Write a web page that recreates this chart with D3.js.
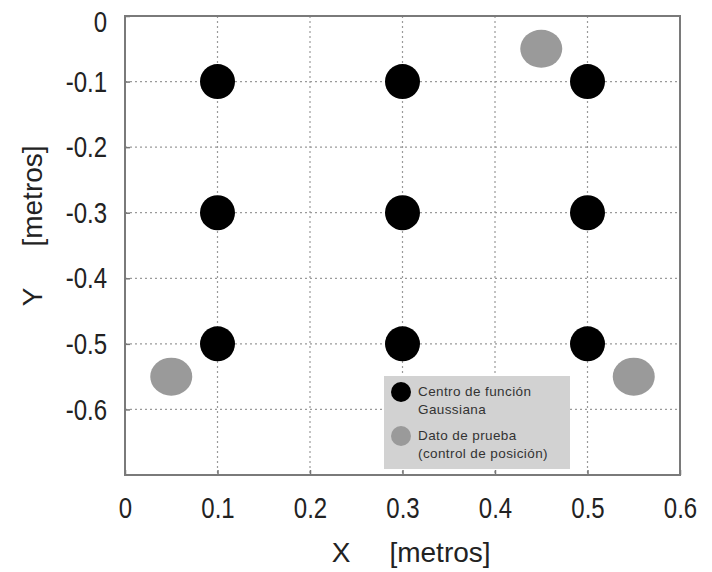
<!DOCTYPE html>
<html>
<head>
<meta charset="utf-8">
<script src="https://cdn.jsdelivr.net/npm/d3@7"></script>
<style>
  body { margin: 0; background: #fff; }
  svg { display: block; }
  .tick-lbl { font-family: "Liberation Sans", Arial, sans-serif; fill: #222; }
</style>
</head>
<body>
<div id="chart"></div>
<script>
// Gaussian centres (black) and test points (gray)
const gaussX = [0.1, 0.3, 0.5, 0.1, 0.3, 0.5, 0.1, 0.3, 0.5];
const gaussY = [-0.1, -0.1, -0.1, -0.3, -0.3, -0.3, -0.5, -0.5, -0.5];
const testX = [0.45, 0.05, 0.55];
const testY = [-0.05, -0.55, -0.55];
const xTicks = [0, 0.1, 0.2, 0.3, 0.4, 0.5, 0.6];
const yTicks = [0, -0.1, -0.2, -0.3, -0.4, -0.5, -0.6];
const legendLabels = [["Centro de función", "Gaussiana"], ["Dato de prueba", "(control de posición)"]];

const svgWidth = 712, svgHeight = 572;
const margin = { top: 16, right: 32, bottom: 97, left: 125 };
const width = svgWidth - margin.left - margin.right;
const height = svgHeight - margin.top - margin.bottom;
const squeeze = 0.8; // narrow look of the tick labels

const svg = d3.select("#chart").append("svg")
    .attr("width", svgWidth)
    .attr("height", svgHeight);

const g = svg.append("g")
    .attr("transform", `translate(${margin.left}, ${margin.top})`);

const xScale = d3.scaleLinear().domain([0, 0.6]).range([0, width]);
const yScale = d3.scaleLinear().domain([-0.7, 0]).range([height, 0]);

// hyphen minus like the original, not the unicode one
const fmt = d => d === 0 ? "0" : d3.format(".1f")(d).replace("\u2212", "-");

// dotted grid
g.append("g")
    .selectAll("line")
    .data(xTicks.slice(1, -1))
    .join("line")
    .attr("x1", d => xScale(d)).attr("x2", d => xScale(d))
    .attr("y1", 0).attr("y2", height)
    .attr("stroke", "#9a9a9a")
    .attr("stroke-width", 1.2)
    .attr("stroke-dasharray", "2,3");

g.append("g")
    .selectAll("line")
    .data(yTicks.slice(1))
    .join("line")
    .attr("x1", 0).attr("x2", width)
    .attr("y1", d => yScale(d)).attr("y2", d => yScale(d))
    .attr("stroke", "#9a9a9a")
    .attr("stroke-width", 1.2)
    .attr("stroke-dasharray", "2,3");

// axes (labels only, ticks inside)
const xg = g.append("g")
    .attr("transform", `translate(0, ${height})`)
    .call(d3.axisBottom(xScale)
        .tickValues(xTicks)
        .tickSizeInner(-5).tickSizeOuter(0)
        .tickPadding(22)
        .tickFormat(fmt));
xg.select(".domain").remove();
xg.selectAll("line").attr("stroke", "#777").attr("stroke-width", 1.5);
xg.selectAll("text")
    .attr("class", "tick-lbl")
    .attr("transform", `scale(${squeeze},1)`)
    .style("font-size", "30px");

const yg = g.append("g")
    .call(d3.axisLeft(yScale)
        .tickValues(yTicks)
        .tickSizeInner(-5).tickSizeOuter(0)
        .tickPadding(18)
        .tickFormat(fmt));
yg.select(".domain").remove();
yg.selectAll("line").attr("stroke", "#777").attr("stroke-width", 1.5);
yg.selectAll("text")
    .attr("class", "tick-lbl")
    .attr("x", -18 / squeeze)
    .attr("transform", `scale(${squeeze},1)`)
    .style("font-size", "30px");
// top "0" sits a little lower in the original
yg.selectAll(".tick").filter(d => d === 0).select("text")
    .attr("dy", "0.52em");

// frame
g.append("rect")
    .attr("x", 0).attr("y", 0)
    .attr("width", width).attr("height", height)
    .attr("fill", "none")
    .attr("stroke", "#7a7a7a")
    .attr("stroke-width", 2);

// points
g.selectAll(".gauss")
    .data(gaussX.map((x, i) => ({ x, y: gaussY[i] })))
    .join("circle")
    .attr("class", "gauss")
    .attr("cx", d => xScale(d.x))
    .attr("cy", d => yScale(d.y))
    .attr("r", 17.5)
    .attr("fill", "#000");

g.selectAll(".test")
    .data(testX.map((x, i) => ({ x, y: testY[i] })))
    .join("ellipse")
    .attr("class", "test")
    .attr("cx", d => xScale(d.x))
    .attr("cy", d => yScale(d.y))
    .attr("rx", 21)
    .attr("ry", 19)
    .attr("fill", "#9a9a9a");

// legend
const legend = svg.append("g").attr("transform", "translate(384, 376)");
legend.append("rect")
    .attr("width", 186).attr("height", 93)
    .attr("fill", "#d2d2d2");

const legendColors = ["#000", "#9a9a9a"];
legendLabels.forEach((lines, i) => {
    const yOff = 16 + i * 44;
    legend.append("circle")
        .attr("cx", 17).attr("cy", yOff)
        .attr("r", 10)
        .attr("fill", legendColors[i]);
    lines.forEach((t, j) => {
        legend.append("text")
            .attr("x", 34)
            .attr("y", yOff + 4 + j * 18)
            .style("font-family", "'Liberation Sans', Arial, sans-serif")
            .style("font-size", "13.5px")
            .style("letter-spacing", "0.4px")
            .style("fill", "#333")
            .text(t);
    });
});

// axis titles
const titleFont = "'Liberation Sans', Arial, sans-serif";
const title = (t, tr) => svg.append("text")
    .attr("transform", tr)
    .attr("text-anchor", "middle")
    .style("font-family", titleFont)
    .style("font-size", "28px")
    .style("fill", "#222")
    .text(t);

title("X", "translate(341, 562)");
title("[metros]", "translate(440, 562)");
title("Y", "translate(42, 297) rotate(-90)");
title("[metros]", "translate(42, 196) rotate(-90)");
</script>
</body>
</html>
